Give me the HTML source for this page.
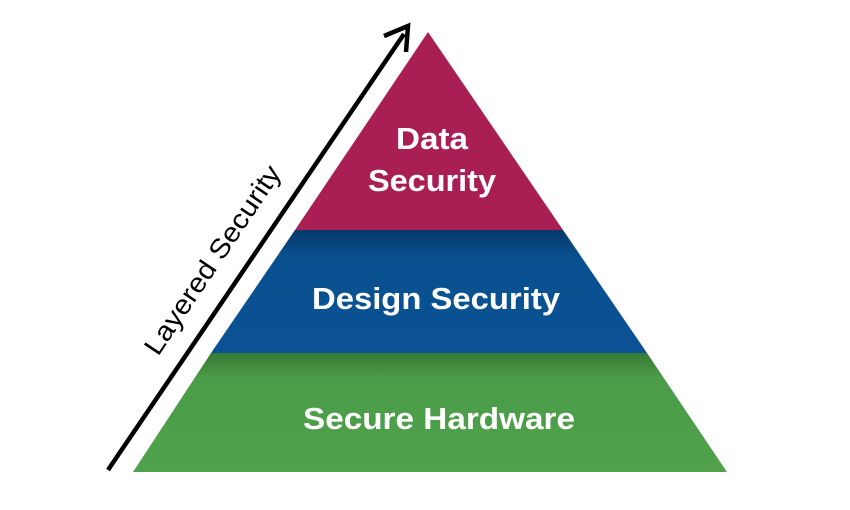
<!DOCTYPE html>
<html><head><meta charset="utf-8"><style>
html,body{margin:0;padding:0;background:#fff;width:850px;height:510px;overflow:hidden}
svg{display:block}
text{font-family:"Liberation Sans",Arial,sans-serif}
</style></head><body>
<svg width="850" height="510" viewBox="0 0 850 510" xmlns="http://www.w3.org/2000/svg">
<defs>
<linearGradient id="gb" x1="0" y1="0" x2="0" y2="1">
<stop offset="0" stop-color="#06396b"/><stop offset="0.22" stop-color="#09508f"/><stop offset="1" stop-color="#0a5295"/>
</linearGradient>
<linearGradient id="gg" x1="0" y1="0" x2="0" y2="1">
<stop offset="0" stop-color="#357a33"/><stop offset="0.2" stop-color="#4b9b48"/><stop offset="1" stop-color="#4fa24b"/>
</linearGradient>
</defs>
<polygon points="428,32 563,230 295,230" fill="#a91f53"/>
<polygon points="295,230 563,230 647,353 211,353" fill="url(#gb)"/>
<polygon points="211,353 647,353 727,472 133,472" fill="url(#gg)"/>
<g fill="#fff" font-weight="bold" font-size="31" text-anchor="middle">
<text x="432" y="149" textLength="72" lengthAdjust="spacingAndGlyphs">Data</text>
<text x="432" y="191" textLength="128" lengthAdjust="spacingAndGlyphs">Security</text>
<text x="436" y="309" textLength="248" lengthAdjust="spacingAndGlyphs">Design Security</text>
<text x="439" y="429" textLength="272" lengthAdjust="spacingAndGlyphs">Secure Hardware</text>
</g>
<line x1="108" y1="470" x2="404" y2="34" stroke="#000" stroke-width="4.5"/>
<polyline points="384,36 408,26 406,52" fill="none" stroke="#000" stroke-width="4.5" stroke-linejoin="miter"/>
<text x="0" y="0" font-size="27" fill="#000" text-anchor="middle" textLength="222" lengthAdjust="spacingAndGlyphs" transform="translate(220,265) rotate(-56)">Layered Security</text>
</svg>
</body></html>
